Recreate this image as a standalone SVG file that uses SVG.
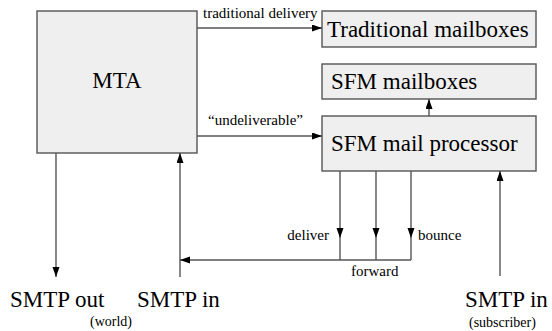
<svg xmlns="http://www.w3.org/2000/svg" width="552" height="331" viewBox="0 0 552 331">
  <defs>
    <marker id="head" markerUnits="userSpaceOnUse" markerWidth="11" markerHeight="8" refX="10" refY="3.5" orient="auto">
      <path d="M0,0 L10,3.5 L0,7 z" fill="#000"/>
    </marker>
    <style>
      .box { fill: #efefef; stroke: #555; stroke-width: 1.4; }
      .big { font-size: 23px; fill: #000; }
      .small { font-size: 15px; fill: #000; }
      .note { font-size: 14px; fill: #000; }
      .wire { fill: none; stroke: #555; stroke-width: 1.4; }
      .arrow { marker-end: url(#head); }
    </style>
  </defs>

  <rect width="552" height="331" fill="#fff"/>

  <g font-family="'Liberation Serif', 'DejaVu Serif', serif">
  <!-- nodes -->
  <g id="mta">
    <rect class="box" x="37" y="11" width="160" height="142"/>
    <text class="big" x="117" y="88" text-anchor="middle">MTA</text>
  </g>
  <g id="traditional-mailboxes">
    <rect class="box" x="322" y="11" width="214" height="36"/>
    <text class="big" x="327" y="37">Traditional mailboxes</text>
  </g>
  <g id="sfm-mailboxes">
    <rect class="box" x="322" y="64" width="214" height="35"/>
    <text class="big" x="331" y="89">SFM mailboxes</text>
  </g>
  <g id="sfm-mail-processor">
    <rect class="box" x="322" y="116" width="214" height="55"/>
    <text class="big" x="331" y="151">SFM mail processor</text>
  </g>
  <g id="smtp-out">
    <text class="big" x="10" y="307">SMTP out</text>
  </g>
  <g id="smtp-in-world">
    <text class="big" x="137" y="307">SMTP in</text>
    <text class="note" x="90" y="326">(world)</text>
  </g>
  <g id="smtp-in-subscriber">
    <text class="big" x="465" y="307">SMTP in</text>
    <text class="note" x="469" y="327">(subscriber)</text>
  </g>

  <!-- connectors -->
  <g id="connectors">
    <path class="wire arrow" d="M197,28 H322"/>
    <text class="small" x="203" y="18">traditional delivery</text>

    <path class="wire arrow" d="M197,136 H322"/>
    <text class="small" x="208" y="125">“undeliverable”</text>

    <path class="wire arrow" d="M429,116 V99"/>

    <path class="wire arrow" d="M56,153 V277"/>
    <path class="wire arrow" d="M180,277 V153"/>
    <path class="wire arrow" d="M500,276 V171"/>

    <path class="wire arrow" d="M340,171 V238"/>
    <path class="wire" d="M340,238 V260"/>
    <path class="wire arrow" d="M376,171 V238"/>
    <path class="wire" d="M376,238 V260"/>
    <path class="wire arrow" d="M411,171 V238"/>
    <path class="wire" d="M411,238 V260"/>
    <path class="wire arrow" d="M411,260 H180"/>

    <text class="small" x="329" y="240" text-anchor="end">deliver</text>
    <text class="small" x="418" y="240">bounce</text>
    <text class="small" x="351" y="276">forward</text>
  </g>
  </g>
</svg>
